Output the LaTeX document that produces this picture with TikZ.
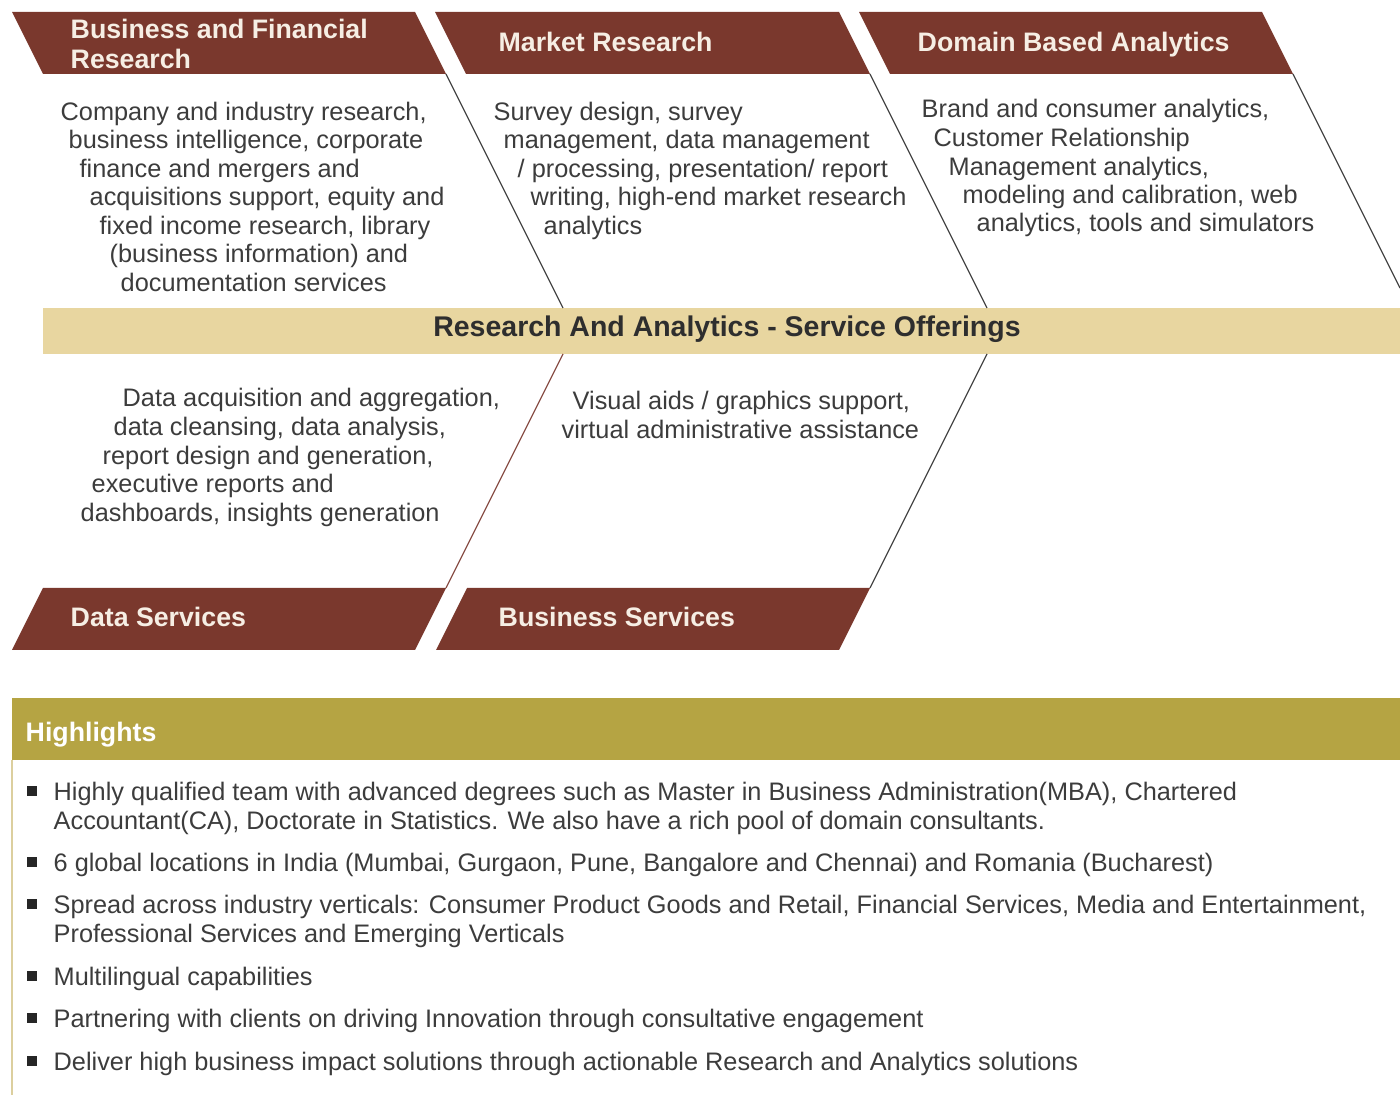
\documentclass[tikz,border=0pt]{standalone}
\usepackage{fontspec}
\setmainfont{Liberation Sans}
\usetikzlibrary{positioning}
\definecolor{banner}{HTML}{7A382D}
\definecolor{bandtan}{HTML}{E8D6A0}
\definecolor{olive}{HTML}{B5A443}
\definecolor{bodygray}{HTML}{3C3C3C}
\definecolor{headcream}{HTML}{F6EEE4}
\definecolor{rimtan}{HTML}{DCCF9E}
\definecolor{rustline}{HTML}{8A5048}

\tikzset{
	head/.style={anchor=west,inner sep=0pt,text=headcream,text height=0.72em,text depth=0.2em,
		font=\fontsize{7.6}{8.6}\selectfont\bfseries},
	body/.style={anchor=west,inner sep=0pt,text=bodygray,text height=0.72em,text depth=0.2em,
		font=\fontsize{7.2}{8.2}\selectfont},
	spine/.style={draw=black!72,line width=0.35pt},
	bullet/.style={fill=black!85,inner sep=0pt,minimum size=2.9pt},
}

\begin{document}
\begin{tikzpicture}[x=0.01cm,y=-0.01cm]
	\useasboundingbox (0,0) rectangle (1400,1095);
	% top banners
	\fill[banner] (12,12) -- (415,12) -- (446,74) -- (43,74) -- cycle;
	\fill[banner] (435,12) -- (839,12) -- (870,74) -- (466,74) -- cycle;
	\fill[banner] (859,12) -- (1262,12) -- (1293,74) -- (890,74) -- cycle;
	\node[head] (bfh1) at (70,29) {Business and Financial};
	\node[head] (bfh2) at (70,59) {Research};
	\node[head] (mrh) at (498,42) {Market Research};
	\node[head] (dah) at (917,42) {Domain Based Analytics};
	% bottom banners
	\fill[banner] (43,588) -- (446,588) -- (415,650) -- (12,650) -- cycle;
	\fill[banner] (467,588) -- (870,588) -- (839,650) -- (436,650) -- cycle;
	\node[head] (dsh) at (70,617) {Data Services};
	\node[head] (bsh) at (498,617) {Business Services};
	% spine
	\fill[bandtan] (43,308) rectangle (1400,354);
	\node[inner sep=0pt,text=black!82,font=\fontsize{8.1}{9}\selectfont\bfseries] (spine) at (727,329)
		{Research And Analytics - Service Offerings};
	\coordinate (bfr) at (446,74);
	\coordinate (mrr) at (870,74);
	\coordinate (dar) at (1293,74);
	\coordinate (x1t) at (563,308);
	\coordinate (x2t) at (987,308);
	\coordinate (x3e) at (1400,288);
	\coordinate (x1b) at (563,354);
	\coordinate (x2b) at (987,354);
	\coordinate (dsr) at (446,588);
	\coordinate (bsr) at (870,588);
	\draw[spine] (bfr) -- (x1t);
	\draw[spine] (mrr) -- (x2t);
	\draw[spine] (dar) -- (x3e);
	\draw[spine,draw=rustline] (x1b) -- (dsr);
	\draw[spine] (x2b) -- (bsr);
	% branch texts
	\node[body] (bf1) at (60,111) {Company and industry research,};
	\node[body] (bf2) at (68,139) {business intelligence, corporate};
	\node[body] (bf3) at (79,168) {finance and mergers and};
	\node[body] (bf4) at (89,196) {acquisitions support, equity and};
	\node[body] (bf5) at (99,225) {fixed income research, library};
	\node[body] (bf6) at (109,253) {(business information) and};
	\node[body] (bf7) at (120,282) {documentation services};
	\node[body] (mr1) at (493,111) {Survey design, survey};
	\node[body] (mr2) at (503,139) {management, data management};
	\node[body] (mr3) at (517,168) {/ processing, presentation/ report};
	\node[body] (mr4) at (530,196) {writing, high-end market research};
	\node[body] (mr5) at (543,225) {analytics};
	\node[body] (da1) at (921,108) {Brand and consumer analytics,};
	\node[body] (da2) at (933,137) {Customer Relationship};
	\node[body] (da3) at (948,166) {Management analytics,};
	\node[body] (da4) at (962,194) {modeling and calibration, web};
	\node[body] (da5) at (976,222) {analytics, tools and simulators};
	\node[body] (ds1) at (122,397) {Data acquisition and aggregation,};
	\node[body] (ds2) at (113,426) {data cleansing, data analysis,};
	\node[body] (ds3) at (102,455) {report design and generation,};
	\node[body] (ds4) at (91,483) {executive reports and};
	\node[body] (ds5) at (80,512) {dashboards, insights generation};
	\node[body] (bs1) at (572,400) {Visual aids / graphics support,};
	\node[body] (bs2) at (561,429) {virtual administrative assistance};
	% highlights
	\fill[olive] (12,698) rectangle (1400,760);
	\draw[rimtan,line width=0.45pt] (12,760) -- (12,1095);
	\node[head,text=white] (hlh) at (25,732) {Highlights};
	\node[body] (hl1) at (53,791) {Highly qualified team with advanced degrees such as Master in Business Administration(MBA), Chartered};
	\node[body] (hl1b) at (53,820) {Accountant(CA), Doctorate in Statistics. We also have a rich pool of domain consultants.};
	\node[body] (hl2) at (53,862) {6 global locations in India (Mumbai, Gurgaon, Pune, Bangalore and Chennai) and Romania (Bucharest)};
	\node[body] (hl3) at (53,904) {Spread across industry verticals: Consumer Product Goods and Retail, Financial Services, Media and Entertainment,};
	\node[body] (hl3b) at (53,933) {Professional Services and Emerging Verticals};
	\node[body] (hl4) at (53,976) {Multilingual capabilities};
	\node[body] (hl5) at (53,1018) {Partnering with clients on driving Innovation through consultative engagement};
	\node[body] (hl6) at (53,1061) {Deliver high business impact solutions through actionable Research and Analytics solutions};
	\node[bullet,left=4.4pt of hl1] (b1) {};
	\node[bullet,left=4.4pt of hl2] (b2) {};
	\node[bullet,left=4.4pt of hl3] (b3) {};
	\node[bullet,left=4.4pt of hl4] (b4) {};
	\node[bullet,left=4.4pt of hl5] (b5) {};
	\node[bullet,left=4.4pt of hl6] (b6) {};
\end{tikzpicture}
\end{document}
